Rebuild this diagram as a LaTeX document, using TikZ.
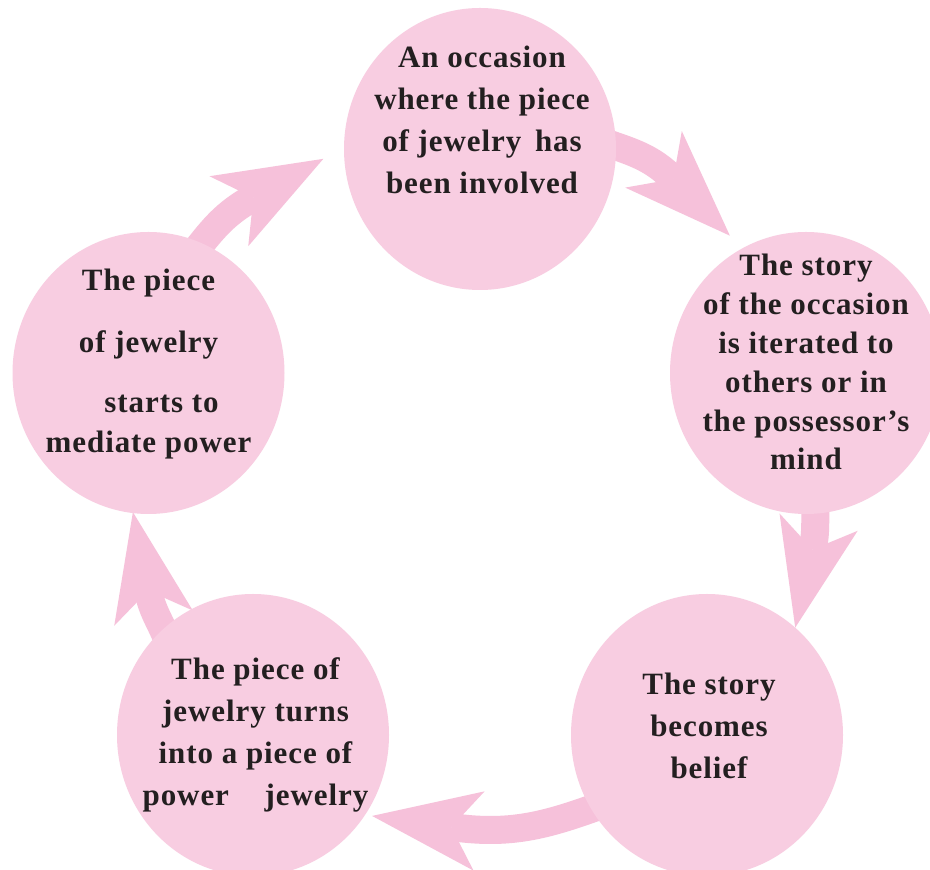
\documentclass[tikz,border=0pt]{standalone}
\usepackage{fontspec}
\setmainfont{Liberation Serif}[LetterSpace=3]
\usetikzlibrary{shapes.geometric}
\definecolor{circfill}{HTML}{F8CDE1}
\definecolor{arrfill}{HTML}{F6C1DA}
\definecolor{txt}{HTML}{231F20}
\pgfdeclarelayer{bg}
\pgfsetlayers{bg,main}
\tikzset{
  bubble/.style={ellipse, fill=circfill, draw=none, minimum width=272pt, minimum height=282pt, inner sep=0pt},
  lbl/.style={text=txt, font=\bfseries\fontsize{31}{42}\selectfont, align=center, inner sep=0pt},
  band/.style={draw=arrfill, line width=28pt},
  headpic/.pic={\fill[arrfill] (0,0) -- (-108,40) -- (-80,0) -- (-108,-40) -- cycle;}
}
\begin{document}
\begin{tikzpicture}[x=1pt,y=1pt]
\useasboundingbox (0,0) rectangle (930,870);

% circles
\node[bubble] (c1) at (480,721) {};
\node[bubble] (c2) at (806,497) {};
\node[bubble] (c3) at (707,135) {};
\node[bubble] (c4) at (253,135) {};
\node[bubble] (c5) at (148.5,497) {};

% texts
\node[lbl] (t1) at (482,747.4) {\strut An occasion\\\strut where the piece\\\strut of jewelry\hspace{5pt} has\\\strut been involved};
\node[lbl, font=\bfseries\fontsize{31}{38.8}\selectfont] (t2) at (806,504.8) {\strut The story\\\strut of the occasion\\\strut is iterated to\\\strut others or in\\\strut the possessor’s\\\strut mind};
\node[lbl] (t3) at (709,141.7) {\strut The story\\\strut becomes\\\strut belief};
\node[lbl] (t4) at (255.5,135.6) {\strut The piece of\\\strut jewelry turns\\\strut into a piece of\\\strut power\hspace{27pt} jewelry};
\node[lbl, font=\bfseries\fontsize{31}{40}\selectfont] (t5) at (148.5,506) {\strut The piece\\[22pt]\strut of jewelry\\[20pt]\strut\hspace*{26pt}starts to\\\strut mediate power};

% arrow tips and notches
\coordinate (h1) at ([shift={(119:157)}]c2.center);
\coordinate (n1) at ([shift={(135:80)}]h1);
\coordinate (h2) at ([shift={(50.6:139)}]c3.center);
\coordinate (n2) at ([shift={(77.5:80)}]h2);
\coordinate (h3) at ([shift={(-34.2:144)}]c4.center);
\coordinate (n3) at ([shift={(-8:80)}]h3);
\coordinate (h4) at ([shift={(-96.4:140)}]c5.center);
\coordinate (n4) at ([shift={(-79:80)}]h4);
\coordinate (h5) at ([shift={(183.6:157)}]c1.center);
\coordinate (n5) at ([shift={(209:80)}]h5);

\begin{pgfonlayer}{bg}
\fill[white] (0,0) rectangle (930,870);
\draw[band] ([shift={(3:125)}]c1.center) to[out=-19,in=135] (n1);
\pic[rotate=-45] at (h1) {headpic};
\draw[band] ([shift={(-85.5:128)}]c2.center) to[out=-95,in=77.5] (n2);
\pic[rotate=-102.5] at (h2) {headpic};
\draw[band] ([shift={(213.5:128)}]c3.center) to[out=200,in=-8] (n3);
\pic[rotate=172] at (h3) {headpic};
\draw[band] ([shift={(131.9:128)}]c4.center) to[out=112,in=-79] (n4);
\pic[rotate=101] at (h4) {headpic};
\draw[band] ([shift={(69.3:128)}]c5.center) to[out=52,in=209] (n5);
\pic[rotate=29] at (h5) {headpic};
\end{pgfonlayer}
\end{tikzpicture}
\end{document}
